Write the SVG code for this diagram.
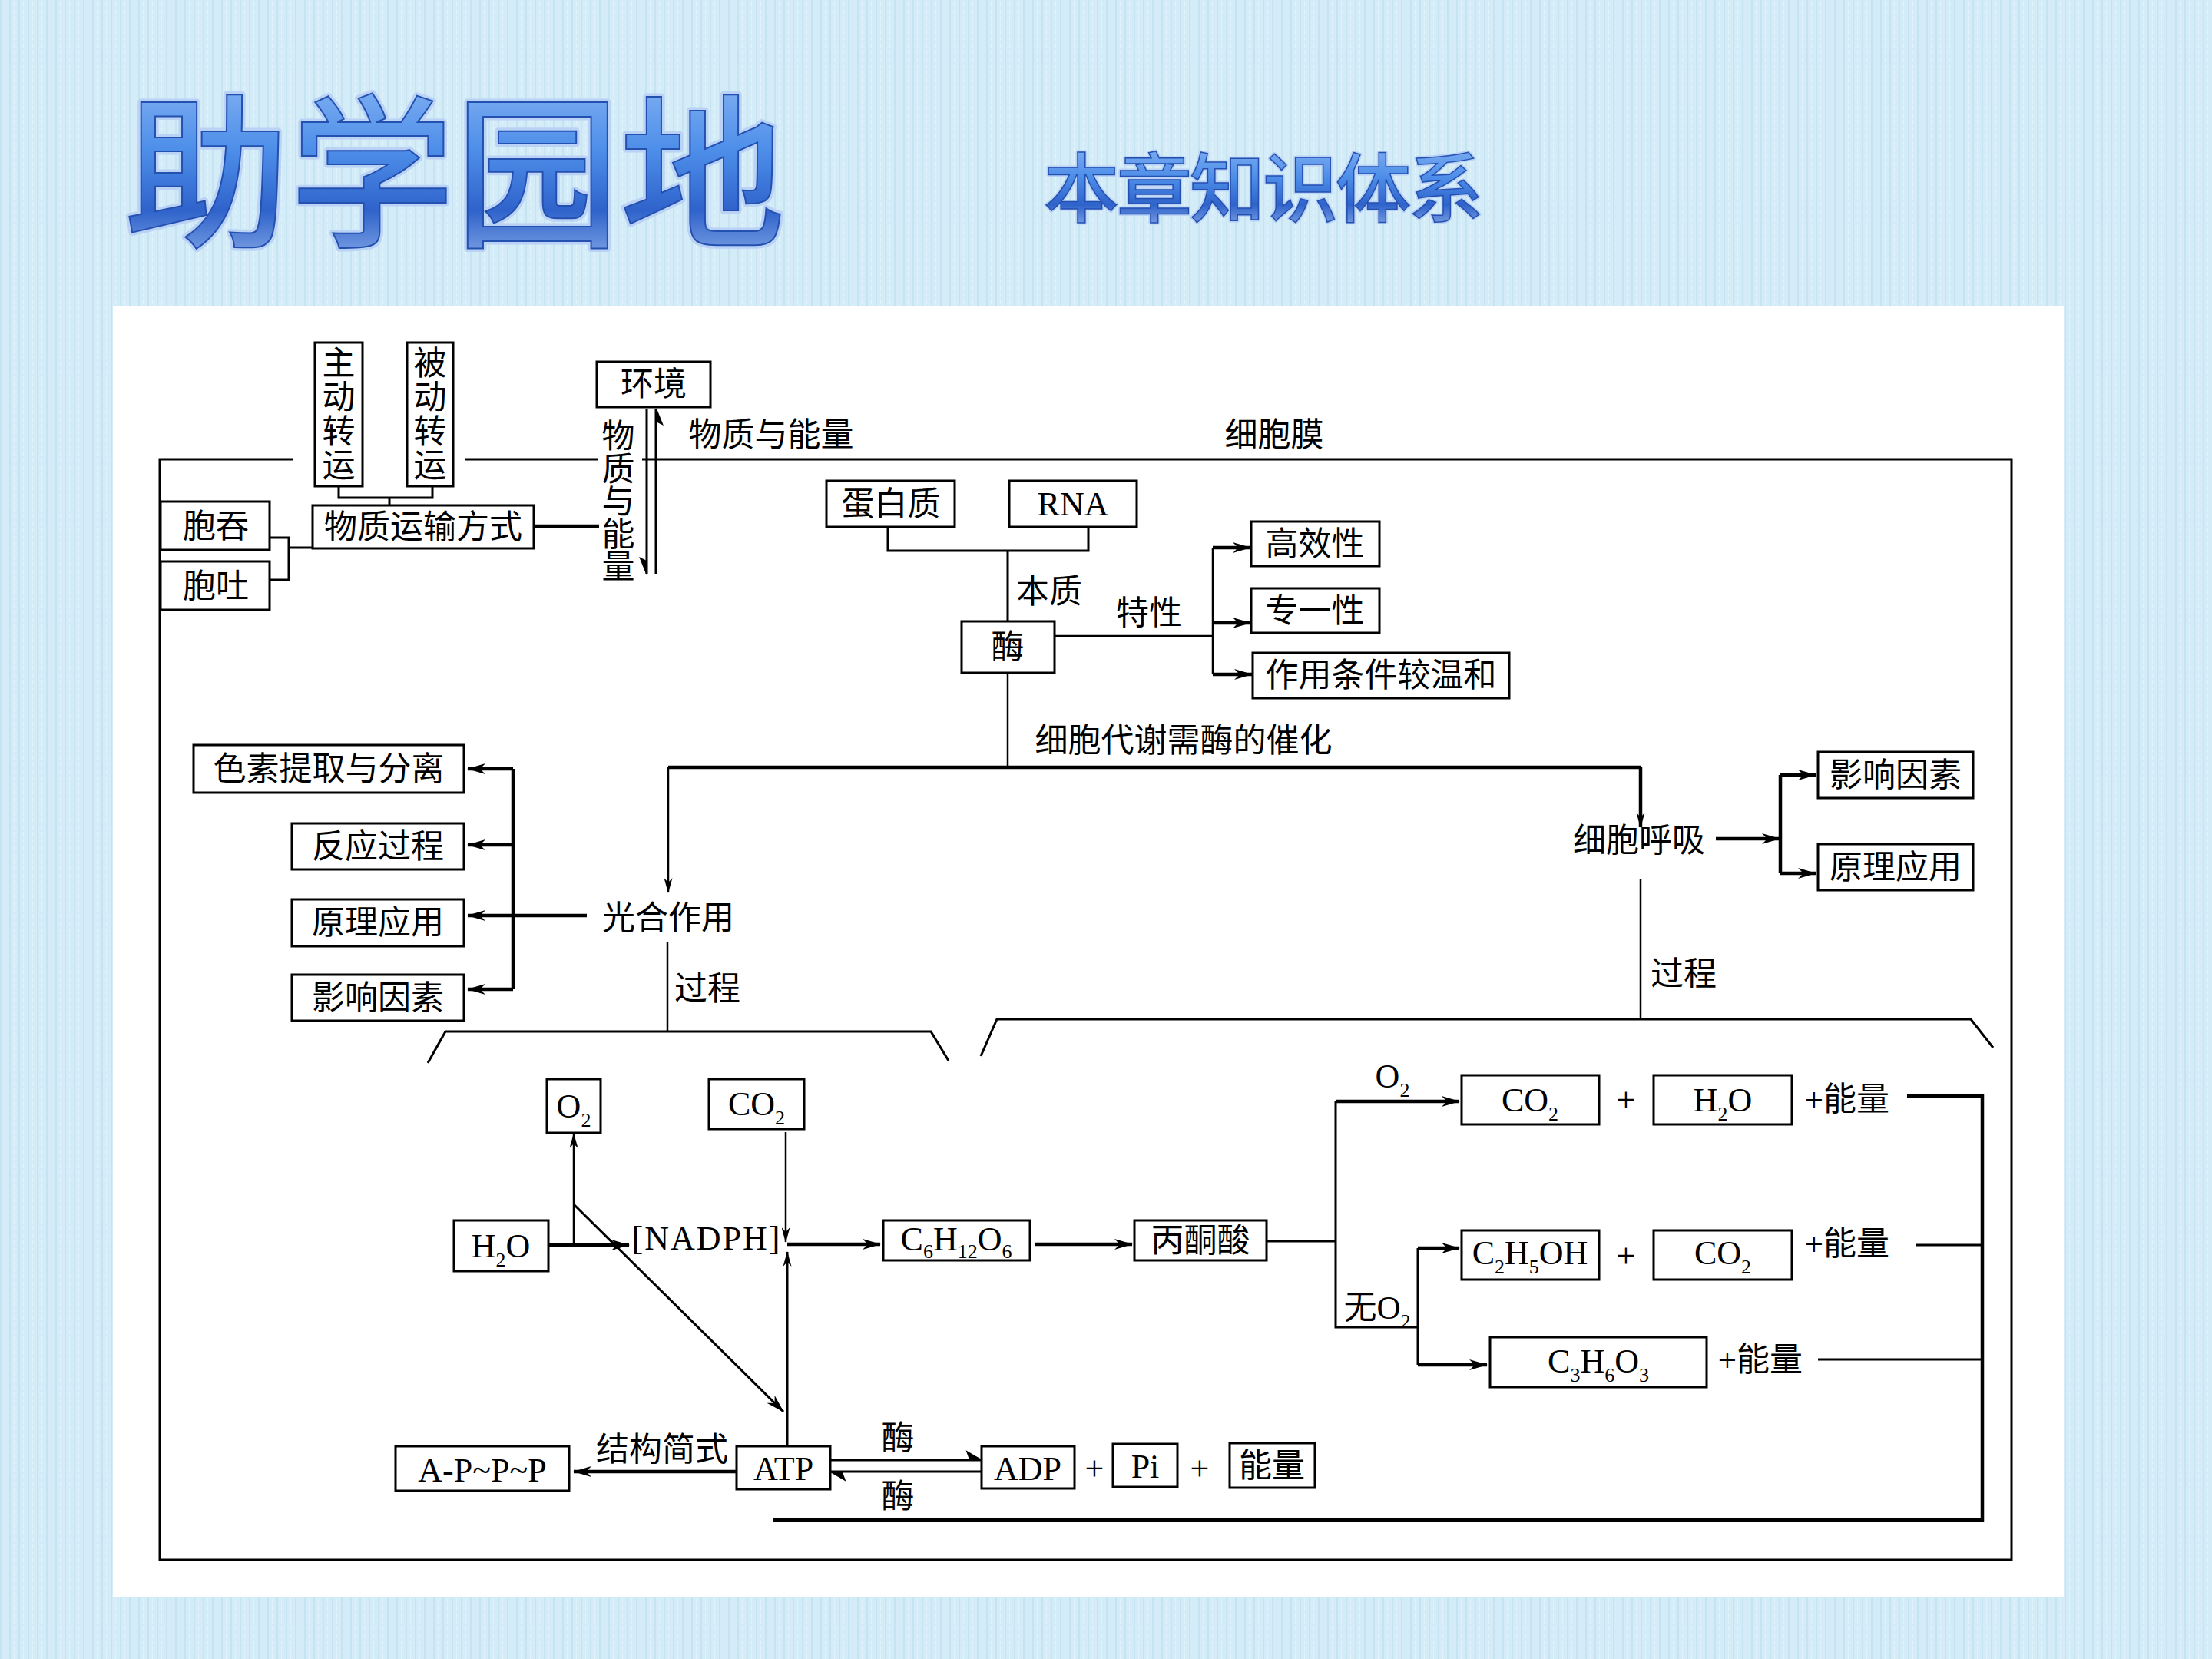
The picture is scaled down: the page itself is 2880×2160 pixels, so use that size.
<svg xmlns="http://www.w3.org/2000/svg" width="2880" height="2160" viewBox="0 0 2880 2160">
<defs>
<pattern id="tex" width="12" height="9" patternUnits="userSpaceOnUse">
<rect width="12" height="9" fill="#d4ecf7"/>
<rect x="0" y="0" width="2" height="9" fill="#c6e3f2"/>
<rect x="6" y="3" width="1" height="6" fill="#e2f3fb"/>
</pattern>
<linearGradient id="tg" x1="0" y1="0" x2="0" y2="1">
<stop offset="0" stop-color="#9cc2f6"/>
<stop offset="0.45" stop-color="#4d8ee9"/>
<stop offset="0.7" stop-color="#2f63cb"/>
<stop offset="1" stop-color="#a6c2f0"/>
</linearGradient>
<marker id="a" markerUnits="userSpaceOnUse" viewBox="0 0 24 14" markerWidth="24" markerHeight="14" refX="23" refY="7" orient="auto">
<path d="M0,0 L24,7 L0,14 L7,7 z" fill="#000"/>
</marker>
<marker id="b" markerUnits="userSpaceOnUse" viewBox="0 0 20 11" markerWidth="20" markerHeight="11" refX="19" refY="5.5" orient="auto">
<path d="M0,0 L20,5.5 L0,11 L6,5.5 z" fill="#000"/>
</marker>
<style>
.box{fill:#fff;stroke:#000;stroke-width:3}
.ln{fill:none;stroke:#000;stroke-width:3}
.tk{stroke-width:4.5}
.tn{stroke-width:2.5}
.t{font-family:"Liberation Serif","Noto Sans CJK SC",serif;font-size:43px;text-anchor:middle;fill:#000}
.l{font-size:44px}
.s{font-size:26px}
.title{font-family:"Noto Sans CJK SC",sans-serif;font-weight:500;text-anchor:middle}
.tbk{fill:none;stroke:#b9d2f6;stroke-width:9;stroke-linejoin:round}
.tfg{fill:url(#tg);stroke:#2450b0;stroke-width:2}
</style>
</defs>

<rect width="2880" height="2160" fill="url(#tex)"/>
<g id="title">
<text class="title tbk" x="592" y="305" font-size="215">助学园地</text>
<text class="title tfg" x="592" y="305" font-size="215">助学园地</text>
<text class="title tbk" x="1644" y="281" font-size="98" letter-spacing="-3" style="stroke-width:5">本章知识体系</text>
<text class="title tfg" x="1644" y="281" font-size="98" letter-spacing="-3" style="stroke-width:1.5">本章知识体系</text>
</g>
<rect x="147" y="398" width="2540" height="1681" fill="#fff"/>

<g id="connectors">
<path class="ln" d="M382,598 H208 V2031 H2619 V598 H836 M606,598 H778"/>
<path class="ln" d="M441,633 V648 H563 V633 M507,648 V658"/>
<path class="ln" d="M351,700 H376 V755 H351 M376,713 H407"/>
<path class="ln tk" d="M695,685 H780"/>
<path class="ln" d="M842,532 V747 M854,532 V747"/>
<path d="M842,747 L834,727 L842,731 z M854,532 L862,552 L854,548 z" fill="#000" stroke="#000" stroke-width="2"/>
<path class="ln" d="M1156,686 V717 H1417 V686 M1312,717 V809"/>
<path class="ln tn" d="M1373,828 H1579 M1579,713 V878"/>
<path class="ln tk" marker-end="url(#a)" d="M1579,713 H1628"/>
<path class="ln tk" marker-end="url(#a)" d="M1579,811 H1628"/>
<path class="ln tk" marker-end="url(#a)" d="M1579,878 H1630"/>
<path class="ln tn" d="M1312,876 V999"/>
<path class="ln tk" d="M870,999 H2136"/>
<path class="ln tn" marker-end="url(#b)" d="M870,999 V1162"/>
<path class="ln tk" marker-end="url(#b)" d="M2136,999 V1077"/>
<path class="ln tk" d="M764,1192 H668 M668,1001 V1288"/>
<path class="ln tk" marker-end="url(#a)" d="M668,1001 H609"/>
<path class="ln tk" marker-end="url(#a)" d="M668,1100 H609"/>
<path class="ln tk" marker-end="url(#a)" d="M668,1192 H609"/>
<path class="ln tk" marker-end="url(#a)" d="M668,1288 H609"/>
<path class="ln tn" d="M869,1227 V1343"/>
<path class="ln" d="M557,1384 L580,1343 H1212 L1235,1381"/>
<path class="ln tk" marker-end="url(#a)" d="M2234,1092 H2317"/>
<path class="ln tk" d="M2318,1009 V1137"/>
<path class="ln tk" marker-end="url(#a)" d="M2318,1009 H2364"/>
<path class="ln tk" marker-end="url(#a)" d="M2318,1137 H2364"/>
<path class="ln tn" d="M2136,1144 V1327"/>
<path class="ln" d="M1277,1375 L1298,1327 H2566 L2595,1364"/>
<path class="ln tk" marker-end="url(#a)" d="M714,1621 H819"/>
<path class="ln tn" marker-end="url(#b)" d="M747,1621 V1476"/>
<path class="ln" marker-end="url(#a)" d="M747,1568 L1020,1838"/>
<path class="ln tn" marker-end="url(#b)" d="M1023,1474 V1617"/>
<path class="ln" marker-end="url(#b)" d="M1025,1883 V1630"/>
<path class="ln tk" marker-end="url(#a)" d="M1025,1620 H1146"/>
<path class="ln tk" marker-end="url(#a)" d="M1347,1620 H1474"/>
<path class="ln" d="M1649,1616 H1739 M1739,1434 V1728 H1846 M1846,1625 V1777"/>
<path class="ln tk" marker-end="url(#a)" d="M1739,1434 H1900"/>
<path class="ln tk" marker-end="url(#a)" d="M1846,1625 H1900"/>
<path class="ln tk" marker-end="url(#a)" d="M1846,1777 H1936"/>
<path class="ln tk" d="M2483,1427 H2581 V1979 H1006"/>
<path class="ln" d="M2495,1621 H2581 M2367,1770 H2581"/>
<path class="ln tk" marker-end="url(#a)" d="M959,1916 H747"/>
<path class="ln" d="M1081,1901 H1278 M1278,1916 H1081"/>
<path d="M1278,1901 L1259,1890 L1263,1901 z M1081,1916 L1100,1927 L1096,1916 z" fill="#000" stroke="#000" stroke-width="1.5"/>
</g>

<g id="n-zhudong"><rect class="box" x="410" y="446" width="62" height="187"/>
<text class="t"><tspan x="441" y="488">主</tspan><tspan x="441" y="532">动</tspan><tspan x="441" y="577">转</tspan><tspan x="441" y="621">运</tspan></text></g>
<g id="n-beidong"><rect class="box" x="530" y="446" width="60" height="187"/>
<text class="t"><tspan x="560" y="488">被</tspan><tspan x="560" y="532">动</tspan><tspan x="560" y="577">转</tspan><tspan x="560" y="621">运</tspan></text></g>
<g id="n-fangshi"><rect class="box" x="407" y="658" width="288" height="56"/><text class="t" x="551" y="701">物质运输方式</text></g>
<g id="n-baotun"><rect class="box" x="209" y="653" width="142" height="63"/><text class="t" x="281" y="700">胞吞</text></g>
<g id="n-baotu"><rect class="box" x="209" y="731" width="142" height="63"/><text class="t" x="281" y="778">胞吐</text></g>
<g id="n-huanjing"><rect class="box" x="777" y="471" width="148" height="59"/><text class="t" x="851" y="515">环境</text></g>
<g id="lbl-wz-v"><text class="t"><tspan x="805" y="583">物</tspan><tspan x="805" y="626">质</tspan><tspan x="805" y="668">与</tspan><tspan x="805" y="711">能</tspan><tspan x="805" y="753">量</tspan></text></g>
<g id="lbl-top"><text class="t" x="1004" y="581">物质与能量</text><text class="t" x="1659" y="581">细胞膜</text></g>

<g id="n-dbz"><rect class="box" x="1076" y="626" width="167" height="60"/><text class="t" x="1160" y="671">蛋白质</text></g>
<g id="n-rna"><rect class="box" x="1314" y="626" width="166" height="60"/><text class="t l" x="1397" y="671">RNA</text></g>
<g id="n-mei"><rect class="box" x="1252" y="809" width="121" height="67"/><text class="t" x="1312" y="857">酶</text></g>
<g id="lbl-mei"><text class="t" x="1366" y="785">本质</text><text class="t" x="1496" y="813">特性</text><text class="t" x="1541" y="979">细胞代谢需酶的催化</text></g>
<g id="n-gxx"><rect class="box" x="1629" y="679" width="167" height="58"/><text class="t" x="1712" y="723">高效性</text></g>
<g id="n-zyx"><rect class="box" x="1629" y="766" width="167" height="58"/><text class="t" x="1712" y="810">专一性</text></g>
<g id="n-zytj"><rect class="box" x="1631" y="850" width="334" height="59"/><text class="t" x="1798" y="894">作用条件较温和</text></g>

<g id="n-guanghe"><text class="t" x="870" y="1210">光合作用</text></g>
<g id="n-sesu"><rect class="box" x="252" y="970" width="352" height="62"/><text class="t" x="428" y="1016">色素提取与分离</text></g>
<g id="n-fanying"><rect class="box" x="380" y="1072" width="224" height="60"/><text class="t" x="492" y="1117">反应过程</text></g>
<g id="n-yuanli1"><rect class="box" x="380" y="1171" width="224" height="61"/><text class="t" x="492" y="1216">原理应用</text></g>
<g id="n-yingxiang1"><rect class="box" x="380" y="1269" width="224" height="60"/><text class="t" x="492" y="1314">影响因素</text></g>
<g id="lbl-guocheng"><text class="t" x="921" y="1302">过程</text><text class="t" x="2192" y="1283">过程</text></g>

<g id="n-huxi"><text class="t" x="2134" y="1109">细胞呼吸</text></g>
<g id="n-yingxiang2"><rect class="box" x="2367" y="979" width="202" height="60"/><text class="t" x="2468" y="1024">影响因素</text></g>
<g id="n-yuanli2"><rect class="box" x="2367" y="1099" width="202" height="60"/><text class="t" x="2468" y="1144">原理应用</text></g>

<g id="n-o2"><rect class="box" x="712" y="1405" width="70" height="70"/><text class="t l" x="747" y="1455">O<tspan class="s" dy="12">2</tspan></text></g>
<g id="n-co2a"><rect class="box" x="923" y="1405" width="124" height="65"/><text class="t l" x="985" y="1452">CO<tspan class="s" dy="12">2</tspan></text></g>
<g id="n-h2oa"><rect class="box" x="591" y="1589" width="123" height="66"/><text class="t l" x="652" y="1637">H<tspan class="s" dy="12">2</tspan><tspan dy="-12">O</tspan></text></g>
<g id="n-nadph"><text class="t l" x="920" y="1627" letter-spacing="2">[NADPH]</text></g>
<g id="n-glu"><rect class="box" x="1150" y="1589" width="191" height="52"/><text class="t l" x="1245" y="1628">C<tspan class="s" dy="10">6</tspan><tspan dy="-10">H</tspan><tspan class="s" dy="10">12</tspan><tspan dy="-10">O</tspan><tspan class="s" dy="10">6</tspan></text></g>
<g id="n-bts"><rect class="box" x="1477" y="1589" width="172" height="52"/><text class="t" x="1563" y="1630">丙酮酸</text></g>
<g id="lbl-o2"><text class="t l" x="1813" y="1416">O<tspan class="s" dy="12">2</tspan></text><text class="t" x="1793" y="1717">无O<tspan class="s" dy="12">2</tspan></text></g>
<g id="n-co2b"><rect class="box" x="1903" y="1400" width="179" height="64"/><text class="t l" x="1992" y="1447">CO<tspan class="s" dy="12">2</tspan></text></g>
<g id="n-h2ob"><rect class="box" x="2153" y="1400" width="180" height="64"/><text class="t l" x="2243" y="1447">H<tspan class="s" dy="12">2</tspan><tspan dy="-12">O</tspan></text></g>
<g id="n-c2h5oh"><rect class="box" x="1903" y="1602" width="179" height="64"/><text class="t l" x="1992" y="1646">C<tspan class="s" dy="12">2</tspan><tspan dy="-12">H</tspan><tspan class="s" dy="12">5</tspan><tspan dy="-12">OH</tspan></text></g>
<g id="n-co2c"><rect class="box" x="2153" y="1602" width="180" height="64"/><text class="t l" x="2243" y="1646">CO<tspan class="s" dy="12">2</tspan></text></g>
<g id="n-c3h6o3"><rect class="box" x="1940" y="1741" width="282" height="65"/><text class="t l" x="2081" y="1787">C<tspan class="s" dy="12">3</tspan><tspan dy="-12">H</tspan><tspan class="s" dy="12">6</tspan><tspan dy="-12">O</tspan><tspan class="s" dy="12">3</tspan></text></g>
<g id="lbl-plus"><text class="t l" x="2117" y="1447">+</text><text class="t l" x="2117" y="1650">+</text>
<text class="t" x="2405" y="1446">+能量</text><text class="t" x="2405" y="1634">+能量</text><text class="t" x="2292" y="1785">+能量</text></g>

<g id="n-atp"><rect class="box" x="959" y="1883" width="122" height="56"/><text class="t l" x="1020" y="1927">ATP</text></g>
<g id="n-appp"><rect class="box" x="515" y="1883" width="226" height="58"/><text class="t l" x="628" y="1929">A-P~P~P</text></g>
<g id="lbl-atp"><text class="t" x="862" y="1902">结构简式</text><text class="t" x="1169" y="1887">酶</text><text class="t" x="1169" y="1963">酶</text></g>
<g id="n-adp"><rect class="box" x="1278" y="1883" width="121" height="55"/><text class="t l" x="1338" y="1927">ADP</text></g>
<g id="n-pi"><rect class="box" x="1449" y="1880" width="84" height="56"/><text class="t l" x="1491" y="1924">Pi</text></g>
<g id="n-nengliang"><rect class="box" x="1601" y="1879" width="111" height="58"/><text class="t" x="1656" y="1923">能量</text></g>
<g id="lbl-plus2"><text class="t l" x="1425" y="1927">+</text><text class="t l" x="1562" y="1927">+</text></g>
</svg>
